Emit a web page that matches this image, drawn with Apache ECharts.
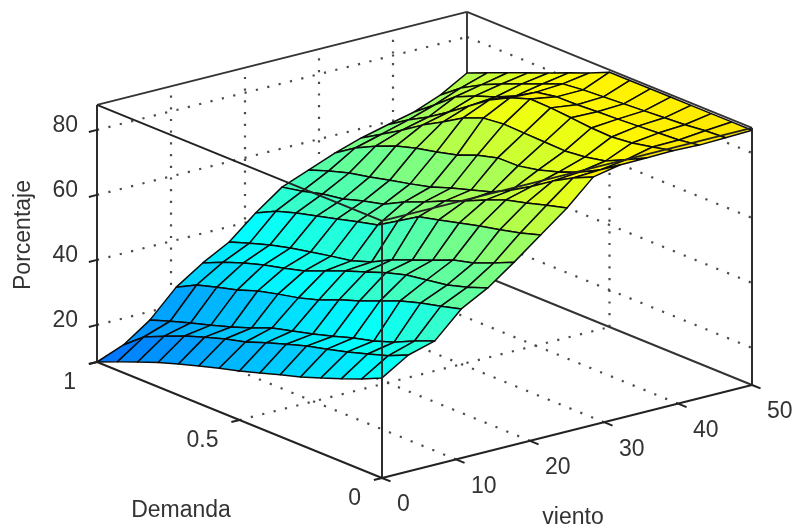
<!DOCTYPE html>
<html><head><meta charset="utf-8">
<script src="https://cdn.jsdelivr.net/npm/echarts@6/dist/echarts.min.js"></script>
<style>html,body{margin:0;padding:0;background:#fff}#c{width:793px;height:528px;filter:blur(0.7px)}</style>
</head><body><div id="c"></div>
<script>
const demanda=[0,0.0714,0.1429,0.2143,0.2857,0.3571,0.4286,0.5,0.5714,0.6429,0.7143,0.7857,0.8571,0.9286,1];
const viento=[0,3.57,7.14,10.71,14.29,17.86,21.43,25,28.57,32.14,35.71,39.29,42.86,46.43,50];
// Porcentaje: each row is one viento value, columns follow demanda
const v00=[39.4,36.5,34,31.7,29.5,27.6,25.6,23.7,22,20.1,18.2,16.1,13.7,11.2,8.6];
const v01=[44.4,41.6,39.6,37.7,36,34.4,32.4,30.3,28,26.4,24.4,22.2,19.6,16.8,11.8];
const v02=[46.7,44.1,41.2,39,37.4,35.4,33.5,31.9,30.3,27.7,25.5,23.5,21.6,19.6,17.4];
const v03=[54.5,52.8,51.2,49.3,46.7,44.2,42,39.4,37.5,36.1,34.5,32.3,30.6,28.7,25.5];
const v04=[58.9,56.6,54.7,53.7,52.7,50.8,48.5,46.3,43.7,41.2,39.5,37.9,36,33.7,30.9];
const v05=[64.8,62,59.4,57.8,55.2,52.7,50.2,47,44.8,43.7,42.4,41.1,39.5,37.5,35.3];
const v06=[71.1,69.2,67.6,66.2,64.6,63,61.4,57.6,53.8,52.2,50.5,48.9,47.3,45.3,42.2];
const v07=[77.4,75.7,73.8,72.2,69.6,66.8,64.2,61.4,58.8,55.6,54,52.1,51.1,49.4,48.1];
const v08=[84.9,82,78.5,74.4,70.7,67.5,65.6,63.6,61.4,59.8,58.4,56.8,55.5,53.6,51.3];
const v09=[86.5,82.4,79.2,76.7,74.8,73.5,73.4,71.7,69.2,67.6,66.2,64.3,61.7,58.6,54.5];
const v10=[86.6,83.5,80.6,79.3,78.6,78.8,79,79.2,78.5,76,72.2,68.7,64.6,60.8,57.1];
const v11=[86.8,85.4,84.1,83.4,83.6,84.2,84.7,84.9,82.7,79.5,75.1,70.7,66.6,63.1,59.1];
const v12=[86.5,85.5,85.1,84.7,84.3,84,83.6,83.5,82.4,78.7,75.8,73.6,70.7,65.7,61];
const v13=[86.7,86.3,85.6,85.2,84.8,84.4,84,83.6,82.9,80.3,77.8,75.2,72.4,68.9,64.2];
const v14=[87,87,87,87,87,87,87,87,84.2,81.7,79.1,76.6,74.1,71.5,68.9];
const porcentaje=[v00,v01,v02,v03,v04,v05,v06,v07,v08,v09,v10,v11,v12,v13,v14];
const zTicks=[20,40,60,80];
const vTicks=[0,10,20,30,40,50];
const dTicks=[0,0.5,1];
const dLabels=['0','0.5','1'];
const zMin=8.6,zMax=87.7;

// orthographic view: where the (demanda, viento, porcentaje) box lands on the page
function project(d,v,z){
  return [382-285*d+370*v/50, 478-116*d-93*v/50-3.25*(z-zMin)];
}
function color(z){
  if(z<=38) return 'rgb(0,'+Math.round(255*(z+13)/51)+',255)';
  if(z<=82){const r=(z-38)/44;return 'rgb('+Math.round(255*r)+',255,'+Math.round(255*(1-r))+')';}
  return 'rgb(255,'+Math.round(255-5*(z-82))+',0)';
}
// surface cells, far corner first
const cells=[];
for(let j=viento.length-2;j>=0;j--)for(let i=demanda.length-2;i>=0;i--)cells.push([i,j]);
function renderCell(params,api){
  const i=api.value(0),j=api.value(1);
  const q=[[i,j],[i+1,j],[i+1,j+1],[i,j+1]];
  const pts=q.map(function(c){
    return api.coord(project(demanda[c[0]],viento[c[1]],porcentaje[c[1]][c[0]]));
  });
  return {type:'polygon',shape:{points:pts},style:{fill:color(porcentaje[j][i]),stroke:'#0c0c0c',lineWidth:1.5,lineJoin:'round'}};
}
function seg(a,b){return a.concat(b);}
const dotted=[],backSolid=[],frontSolid=[];
[10,20,30,40].forEach(function(v){
  dotted.push(seg([1,v,zMin],[1,v,zMax]));
  dotted.push(seg([0,v,zMin],[1,v,zMin]));
});
dotted.push(seg([0.5,50,zMin],[0.5,50,zMax]));
dotted.push(seg([0.5,0,zMin],[0.5,50,zMin]));
zTicks.forEach(function(z){
  dotted.push(seg([1,0,z],[1,50,z]));
  dotted.push(seg([1,50,z],[0,50,z]));
});
backSolid.push(seg([1,0,zMin],[1,50,zMin]),seg([1,50,zMin],[0,50,zMin]),
  seg([1,0,zMax],[1,50,zMax]),seg([1,50,zMax],[0,50,zMax]),seg([1,50,zMin],[1,50,zMax]));
frontSolid.push(seg([1,0,zMax],[0,0,zMax]),seg([0,0,zMax],[0,50,zMax]),
  seg([0,0,zMin],[0,0,zMax]),seg([1,0,zMin],[1,0,zMax]),seg([0,50,zMin],[0,50,zMax]),
  seg([1,0,zMin],[0,0,zMin]),seg([0,0,zMin],[0,50,zMin]));
zTicks.forEach(function(z){frontSolid.push(seg([1,0,z],[1,-1.1,z]));});
frontSolid.push(seg([1,0,zMin],[1,-1.1,zMin]));
vTicks.forEach(function(v){frontSolid.push(seg([0,v,zMin],[-0.03,v,zMin]));});
dTicks.forEach(function(d){frontSolid.push(seg([d,0,zMin],[d,-1.1,zMin]));});

function lineRenderer(stroke,width,dash){
  return function(params,api){
    const a=api.coord(project(api.value(0),api.value(1),api.value(2)));
    const b=api.coord(project(api.value(3),api.value(4),api.value(5)));
    return {type:'line',shape:{x1:a[0],y1:a[1],x2:b[0],y2:b[1]},style:{stroke:stroke,lineWidth:width,lineDash:dash||null,fill:null}};
  };
}
const labelFont='23px "Liberation Sans",Arial,sans-serif',ink='#333';
function textRenderer(list,off,align){
  return function(params,api){
    const p=api.coord(project(api.value(0),api.value(1),api.value(2)));
    return {type:'text',x:p[0]+off[0],y:p[1]+off[1],style:{text:list[params.dataIndex],font:labelFont,fill:ink,align:align,verticalAlign:'middle'}};
  };
}
function custom(data,fn){
  return {type:'custom',coordinateSystem:'cartesian2d',data:data,renderItem:fn,silent:true,animation:false,clip:false,encode:{x:0,y:1}};
}
const chart=echarts.init(document.getElementById('c'),null,{renderer:'canvas'});
chart.setOption({
  animation:false,backgroundColor:'#fff',
  grid:{left:0,right:0,top:0,bottom:0},
  xAxis:{type:'value',min:0,max:793,show:false},
  yAxis:{type:'value',min:0,max:528,inverse:true,show:false},
  series:[
    custom(dotted,lineRenderer('#4c4c4c',2.2,[2.2,9.5])),
    custom(backSolid,lineRenderer('#333',1.9)),
    custom(cells,renderCell),
    custom(frontSolid,lineRenderer('#222',1.9)),
    custom(zTicks.map(function(z){return [1,0,z];}),textRenderer(zTicks.map(String),[-19,-4],'right')),
    custom(vTicks.map(function(v){return [0,v,zMin];}),textRenderer(vTicks.map(String),[15,27],'left')),
    custom(dTicks.map(function(d){return [d,0,zMin];}),textRenderer(dLabels,[-21,21],'right'))
  ],
  graphic:[
    {type:'text',x:181,y:511,style:{text:'Demanda',font:labelFont,fill:ink,align:'center',verticalAlign:'middle'}},
    {type:'text',x:573,y:518,style:{text:'viento',font:labelFont,fill:ink,align:'center',verticalAlign:'middle'}},
    {type:'text',x:24,y:235,rotation:Math.PI/2,style:{text:'Porcentaje',font:labelFont,fill:ink,align:'center',verticalAlign:'middle'}}
  ]
});
</script></body></html>
